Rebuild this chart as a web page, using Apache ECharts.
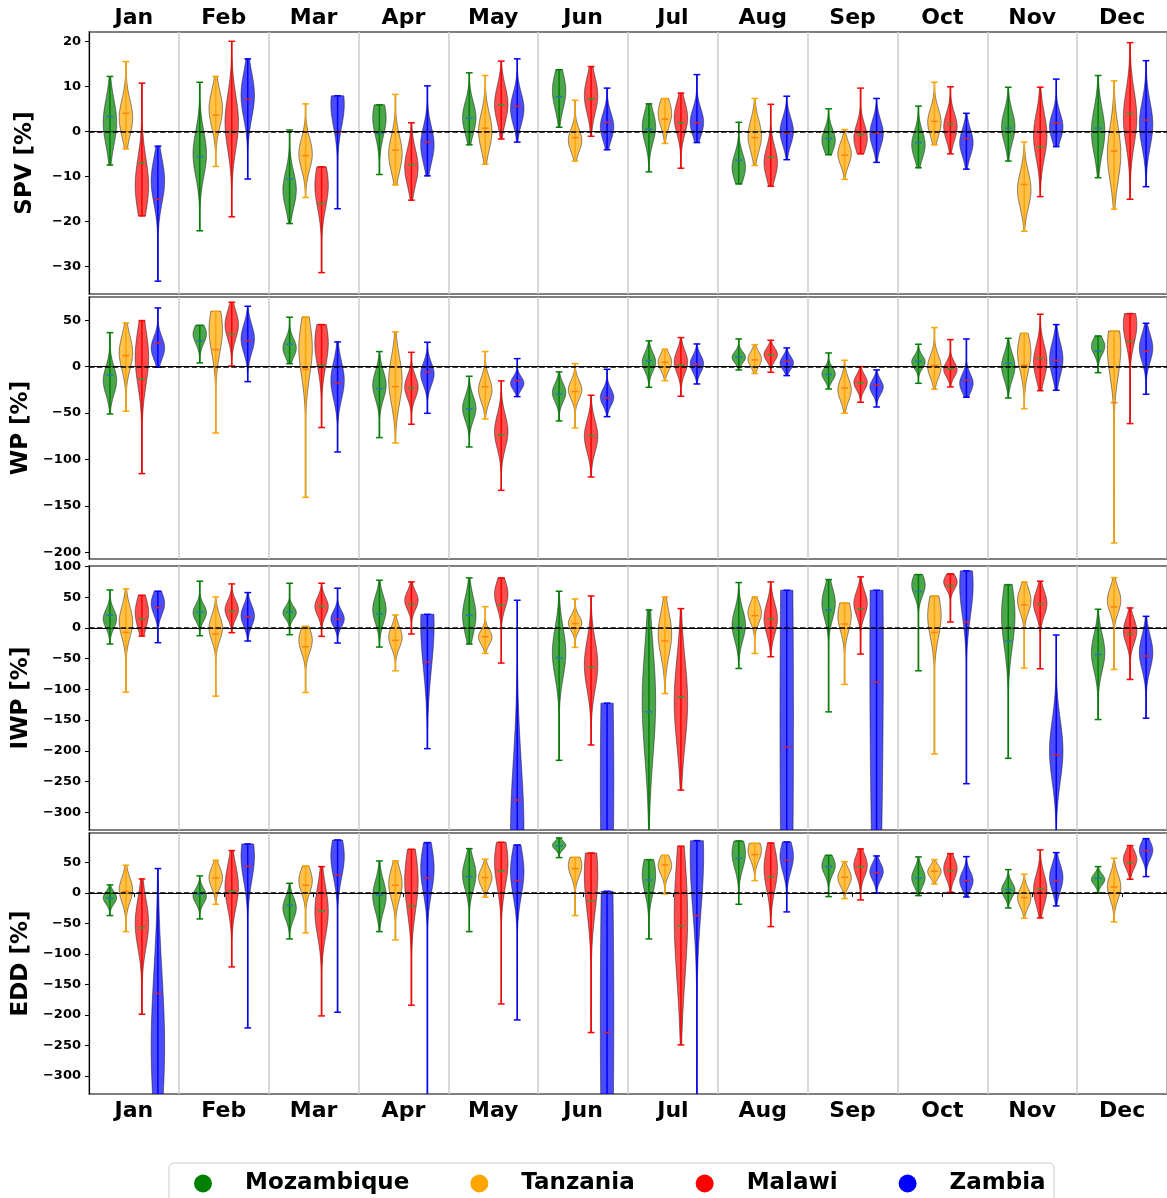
<!DOCTYPE html>
<html><head><meta charset="utf-8">
<script src="https://cdn.jsdelivr.net/npm/echarts@6/dist/echarts.min.js"></script>
<style>html,body{margin:0;padding:0;background:#fff;overflow:hidden}#chart{width:1167px;height:1198px}</style>
</head><body><div id="chart"></div>
<script>
const months = ['Jan','Feb','Mar','Apr','May','Jun','Jul','Aug','Sep','Oct','Nov','Dec'];
const countries = ['Mozambique','Tanzania','Malawi','Zambia'];
// each entry: [min, max, median, mode (widest point), spread of body]
const spvMozambique = [[-7.5,12.2,3.3,2,5],[-22.1,10.9,-5.6,-5,5],[-20.5,0.3,-10.6,-13,4],[-9.6,5.9,-0.5,3,4],[-3,13,2.9,3,3.5],[0.9,13.7,7.7,9,4],[-9.0,6.1,0.5,1,3.5],[-11.7,2,-6.4,-8,3],[-5.2,5.0,-1.6,-2,2.5],[-8.1,5.6,-2.5,-3,3],[-6.6,9.8,0.7,1,3.5],[-10.3,12.4,0.7,0,5]];
const spvTanzania = [[-3.9,15.5,4.0,3,4],[-7.8,12.2,3.6,5,4],[-14.7,6.1,-5.4,-5,3.5],[-11.9,8.2,-4.2,-5,4],[-7.3,12.4,0.7,0,4],[-6.6,6.9,-1.4,-2,2.5],[-2.7,7.3,2.7,4,3],[-7.6,7.3,-1.4,-1,3.5],[-10.7,0.4,-5.3,-5,2.5],[-3.0,10.9,2.2,2,3],[-22.2,-2.4,-11.8,-13,4],[-17.3,11.2,-4.4,-5,6]];
const spvMalawi = [[-18.8,10.7,-7.0,-12,6],[-19,20,-0.2,2,6],[-31.4,-7.9,-16.1,-12,5],[-15.3,1.9,-7.4,-8,4],[-1.7,15.6,5.9,6,4],[-1.1,14.4,7.2,8,4],[-8.2,8.5,1.9,3,3.5],[-12.2,6,-5.8,-7,3.5],[-5.0,9.6,-0.7,-1.5,3],[-5.0,9.9,1.6,1,3],[-14.5,9.8,-3.4,-1,5],[-15.1,19.7,3.9,3,6]];
const spvZambia = [[-33.3,-3.3,-15.1,-11,5],[-10.6,16.1,7.1,8,5],[-17.2,7.9,-0.2,6,5],[-9.9,10.1,-2.4,-3,4],[-2.4,16.1,5.6,5,3.5],[-4.1,9.6,2.0,1,3],[-2.5,12.6,1.9,2,3],[-6.3,7.8,-0.4,0,3],[-6.9,7.3,-0.4,-0.5,3],[-8.4,4.0,-1.6,-2.5,3],[-3.4,11.6,1.9,1,3],[-12.3,15.7,2.5,1.5,5]];

const wpMozambique = [[-51,36.6,-9,-15,15],[4,44.5,27.7,35,10],[3.2,53.2,24.1,20,10],[-76.5,16.2,-23.7,-20,15],[-86.6,-10.4,-45.6,-45,13],[-58.5,-5.7,-29.5,-28,10],[-22.3,27.7,6.5,5,10],[-3.6,29.8,10.4,10,6],[-24.1,14.7,-8.3,-8,7],[-18,24.1,5.7,5,7],[-33.8,30.5,3.6,0,14],[-6.5,33,16.5,22,9]];
const wpTanzania = [[-48,47,11.9,15,18],[-71.5,59.6,18.3,40,25],[-140.8,53.5,-2.9,20,30],[-82.3,37.4,-21.6,-15,25],[-56.4,16.2,-21.6,-25,13],[-66.1,3.2,-26.9,-25,10],[-15.1,18.7,4.7,5,9],[-7.5,23.7,7.2,8,8],[-50.3,6.8,-23,-25,12],[-24.4,42,1.4,0,12],[-45.3,35.9,1.4,15,20],[-190,38.4,-38.8,20,30]];
const wpMalawi = [[-115.3,49.6,-13.6,10,30],[0.7,69.3,35.2,45,15],[-65.7,45.3,1.1,25,25],[-62.1,15.4,-23,-22,12],[-133.3,-15.4,-73.6,-70,18],[-118.9,-30.9,-74.4,-75,17],[-32,31.3,1.8,5,12],[-6.1,28.4,12.6,13,7],[-38.4,0,-17.6,-17,8],[-21.9,29.1,-2.2,-3,8],[-25.9,56.4,9.3,5,18],[-61.4,57.1,26.9,45,20]];
const wpZambia = [[-0.7,63.2,25.5,20,12],[-16.2,65,28,30,15],[-92,26.6,-17.6,-15,20],[-50.3,26.2,-5.7,-8,12],[-32.3,8.6,-15.1,-18,7],[-53.9,-2.9,-33.8,-33,9],[-18.7,24.4,2.5,3,9],[-9.7,20.1,5.7,4,7],[-43.5,-3.6,-20.1,-22,8],[-33,29.8,-14.7,-18,10],[-25.5,45.3,6.8,8,18],[-29.8,46.7,16.5,20,15]];

const iwpMozambique = [[-26.1,62,20.7,15,15],[-12.5,76.2,26.1,25,13],[-10.9,72.9,26.1,25,10],[-31,77.8,22.9,30,22],[-26.1,81.6,20.7,20,30],[-215.5,59.9,-48.4,-40,40],[-350,29.4,-136.6,-120,90],[-65.9,74,1.1,5,25],[-136.6,78.9,29.4,40,25],[-69.7,87.1,59.3,70,18],[-212.2,70.7,-21.2,20,50],[-149.1,30.5,-43,-40,30]];
const iwpTanzania = [[-104.5,63.7,-7.1,10,25],[-111,50.6,-9.8,0,20],[-105,2.7,-30.5,-20,20],[-69.7,21.2,-20.1,-15,17],[-41.4,34.8,-14.1,-15,12],[-31.6,47.3,7.1,8,12],[-106.7,50.6,-21.2,-10,35],[-41.4,50.6,20.1,25,17],[-92,40.8,6.5,20,25],[-205.2,52.2,-7.1,20,35],[-65.3,75.1,37.6,45,20],[-67.5,82.2,34.3,45,20]];
const iwpMalawi = [[-13.1,53.3,15.2,25,25],[-7.6,71.8,26.7,30,15],[-13.6,72.9,35.4,35,15],[-9.8,75.1,38.6,45,15],[-57.1,81.6,37,55,22],[-190.5,52.2,-64.2,-60,40],[-264,31.6,-112,-120,70],[-46.8,75.1,15.2,15,25],[-42.4,83.3,31.6,40,20],[9.8,88.2,68.6,75,12],[-66.4,76.2,39.2,40,20],[-83.8,32.7,-9.8,-5,20]];
const iwpZambia = [[-23.9,59.9,33.2,40,18],[-21.2,57.7,18.5,20,17],[-24.5,64.8,14.1,15,13],[-196.5,22.3,-55.5,5,70],[-520,45.2,-280.3,-330,110],[-900,-122.4,-450,-250,300],[-900,-400,-600,-600,150],[-600,61.5,-193.7,-150,500],[-500,61.5,-88.2,-50,400],[-253.6,93.1,9.8,70,50],[-360,-11.4,-206.3,-200,50],[-146.9,19,-45.7,-40,28]];

const eddMozambique = [[-37.1,13.1,-8.7,-8,10],[-42.6,27.9,-2.2,-5,12],[-75.4,15.8,-19.7,-25,18],[-63.4,52.4,-3.8,-5,25],[-63.4,72.6,26.8,30,25],[57.9,90.1,77,78,7],[-75.4,54.6,21.3,30,30],[-18.6,85.2,56.8,65,25],[-6,61.7,43.1,45,15],[-4.4,59,24.6,25,15],[-24.6,38.2,5.5,5,12],[0.5,43.1,24,22,9]];
const eddTanzania = [[-63.4,45.3,2.2,5,20],[-18.6,53.5,24.6,25,17],[-65.5,44.2,12.6,20,20],[-77,52.4,12.6,15,25],[-7.1,55.2,25.1,25,15],[-37.1,58.4,39.9,45,18],[-1.6,61.7,45.9,45,15],[20.2,81.4,62.8,70,17],[-9.3,51.3,25.7,25,14],[14.7,54.6,35.5,35,10],[-41.5,30.6,-7.6,-8,15],[-47.5,56.8,9.8,10,20]];
const eddMalawi = [[-198.8,22.9,-57.3,-50,40],[-121.2,69.4,3.3,10,35],[-201.5,43.1,-30,-30,40],[-184,71.5,-21.3,20,50],[-181.9,83,36,50,40],[-228.8,65.5,-12.6,30,60],[-249,76.5,-54.1,-40,100],[-55.2,81.9,26.8,40,35],[-11.5,72.1,43.1,45,18],[1.1,64.4,36.6,40,17],[-41,70.5,7.1,5,25],[22.4,77.6,49.7,55,15]];
const eddZambia = [[-450,39.9,-164.9,-250,120],[-221.2,80.3,43.7,60,40],[-195.5,86.8,29.5,60,35],[-380,82.5,24.6,40,40],[-208.1,78.6,20.2,35,40],[-500,2.7,-228.8,-200,400],[-400,85.7,-37.1,60,90],[-31.1,83.6,53.5,60,25],[0,60.6,33.3,35,14],[-6.6,59.5,20.2,20,15],[-21.3,66.1,20.2,25,22],[26.8,89,69.4,70,15]];

const spvTicks = [-30,-20,-10,0,10,20];
const wpTicks = [-200,-150,-100,-50,0,50];
const iwpTicks = [-300,-250,-200,-150,-100,-50,0,50,100];
const eddTicks = [-300,-250,-200,-150,-100,-50,0,50];

const FONT = 'DejaVu Sans';
const colors = ['#008000','#FFA500','#FF0000','#0000FF'];
const fills = ['rgba(0,128,0,0.7)','rgba(255,165,0,0.7)','rgba(255,0,0,0.7)','rgba(0,0,255,0.7)'];
const medianColors = ['#1f77b4','#ff7f0e','#2ca02c','#d62728'];
const offsets = [-0.267,-0.089,0.089,0.267];
const violinWidth = 0.15;

const panels = [
  {name:'SPV [%]', sets:[spvMozambique,spvTanzania,spvMalawi,spvZambia], min:-36.15, max:22.07, ticks:spvTicks, top:32, height:262, gap:52},
  {name:'WP [%]', sets:[wpMozambique,wpTanzania,wpMalawi,wpZambia], min:-207.3, max:75, ticks:wpTicks, top:297, height:262, gap:56},
  {name:'IWP [%]', sets:[iwpMozambique,iwpTanzania,iwpMalawi,iwpZambia], min:-329, max:101, ticks:iwpTicks, top:566, height:264, gap:56},
  {name:'EDD [%]', sets:[eddMozambique,eddTanzania,eddMalawi,eddZambia], min:-329.5, max:98.2, ticks:eddTicks, top:833, height:261, gap:52}
];

function fmt(v){ return v < 0 ? '\u2212' + Math.abs(v) : String(v); }

function makeRender(ci){
  return function(params, api){
    const m = api.value(0), lo = api.value(1), hi = api.value(2), med = api.value(3), mode = api.value(4), s = api.value(5);
    const band = api.size([1,0])[0];
    const cx = api.coord([m,0])[0] + offsets[ci]*band;
    const hw = band*violinWidth/2;
    const N = 100; const pts = []; let maxd = 0;
    for (let i=0;i<=N;i++){ const y = lo+(hi-lo)*i/N; const d = Math.exp(-0.5*Math.pow((y-mode)/s,2)); pts.push([y,d]); if (d>maxd) maxd=d; }
    const right = [], left = [];
    pts.forEach(p => { const py = api.coord([m,p[0]])[1]; const w = Math.max(hw*p[1]/maxd, 0.3); right.push([cx+w,py]); left.push([cx-w,py]); });
    const poly = right.concat(left.reverse());
    const yLo = api.coord([m,lo])[1], yHi = api.coord([m,hi])[1], yMed = api.coord([m,med])[1];
    const cap = hw/2;
    const cs = params.coordSys;
    return {type:'group', clipPath:{type:'rect', shape:{x:cs.x, y:cs.y, width:cs.width, height:cs.height}}, children:[
      {type:'polygon', shape:{points:poly}, style:{fill:fills[ci], stroke:'rgba(0,0,0,0.45)', lineWidth:1}},
      {type:'line', shape:{x1:cx,y1:yLo,x2:cx,y2:yHi}, style:{stroke:colors[ci], lineWidth:1.5}},
      {type:'line', shape:{x1:cx-cap,y1:yLo,x2:cx+cap,y2:yLo}, style:{stroke:colors[ci], lineWidth:1.5}},
      {type:'line', shape:{x1:cx-cap,y1:yHi,x2:cx+cap,y2:yHi}, style:{stroke:colors[ci], lineWidth:1.5}},
      {type:'line', shape:{x1:cx-cap,y1:yMed,x2:cx+cap,y2:yMed}, style:{stroke:medianColors[ci], lineWidth:1.5}}
    ]};
  };
}

const grids = [], xAxes = [], yAxes = [], series = [];
panels.forEach((p, pi) => {
  grids.push({left:89, top:p.top, width:1080, height:p.height, show:true, borderColor:'#000', borderWidth:1.2, backgroundColor:'transparent', containLabel:false});
  const showLab = (pi===0 || pi===3);
  xAxes.push({type:'category', gridIndex:pi, data:months, position: pi===0 ? 'top' : 'bottom', boundaryGap:true,
    axisLine:{show:true, lineStyle:{color:'#000', width:1.2}},
    axisTick:{show: pi===3, alignWithLabel:true, interval:0, length:4, lineStyle:{color:'#000', width:1}},
    axisLabel:{show:showLab, interval:0, fontSize:22, fontWeight:'bold', color:'#000', fontFamily:FONT, margin: pi===0 ? 3 : 6},
    splitLine:{show:true, interval:0, lineStyle:{color:'#cccccc', width:1.5}}});
  yAxes.push({type:'value', gridIndex:pi, min:p.min, max:p.max,
    name:p.name, nameLocation:'middle', nameGap:p.gap,
    nameTextStyle:{fontSize:23, fontWeight:'bold', color:'#000', fontFamily:FONT},
    axisLine:{show:true, lineStyle:{color:'#000', width:1.2}},
    axisTick:{show:true, length:4, customValues:p.ticks, lineStyle:{color:'#000', width:1}},
    axisLabel:{customValues:p.ticks, formatter:fmt, fontSize:13, fontWeight:'bold', color:'#000', fontFamily:FONT, margin:8},
    splitLine:{show:false}});
  p.sets.forEach((arr, ci) => {
    series.push({type:'custom', name:countries[ci], xAxisIndex:pi, yAxisIndex:pi, clip:true,
      itemStyle:{color:colors[ci]},
      renderItem: makeRender(ci),
      encode:{x:0, y:[1,2,3]},
      data: arr.map((v,i) => [i, v[0], v[1], v[2], v[3], v[4]]), z:2});
  });
  series.push({type:'line', xAxisIndex:pi, yAxisIndex:pi, data:[], z:5, silent:true,
    markLine:{silent:true, symbol:['none','none'], label:{show:false}, animation:false,
      lineStyle:{color:'#000', type:[5.5,2.4], width:1.5}, data:[{yAxis:0}]}});
});

const chart = echarts.init(document.getElementById('chart'), null, {renderer:'canvas'});
chart.setOption({
  backgroundColor:'#fff',
  animation:false,
  textStyle:{fontFamily:FONT},
  grid:grids, xAxis:xAxes, yAxis:yAxes, series:series,
  legend:{left:194, top:1172, padding:0, itemGap:61, itemWidth:74, itemHeight:18, icon:'circle', z:5,
    textStyle:{fontSize:23, fontWeight:'bold', color:'#000', fontFamily:FONT},
    data:countries.map((c,i)=>({name:c, itemStyle:{color:colors[i]}}))},
  graphic:[{type:'rect', z:-10, silent:true, shape:{x:169, y:1163, width:885, height:60, r:5}, style:{fill:'#fff', stroke:'#cccccc', lineWidth:1}}]
});
</script></body></html>
